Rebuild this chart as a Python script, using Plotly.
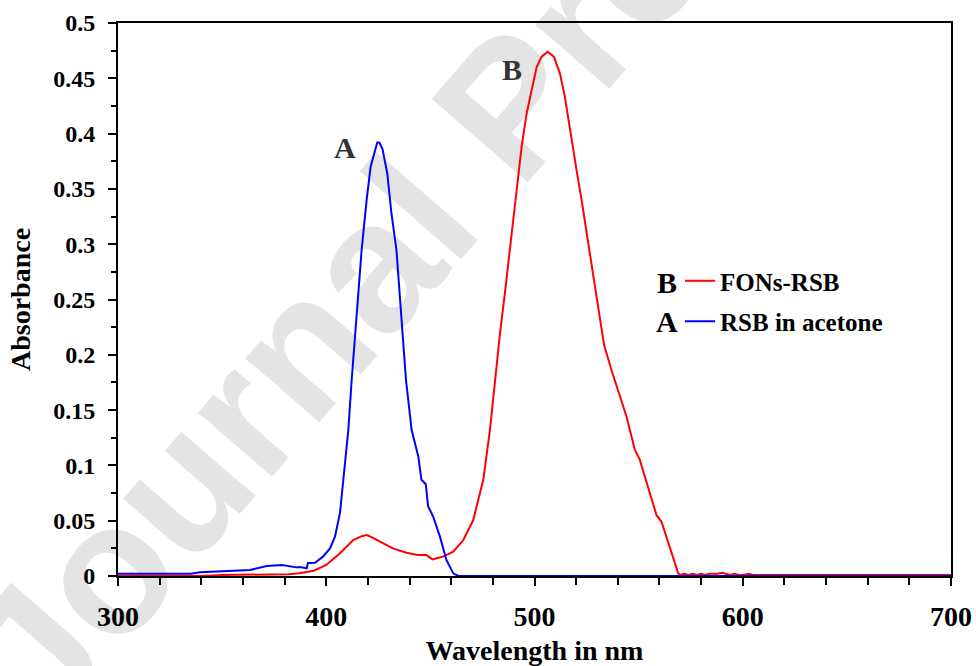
import plotly.graph_objects as go

# FONs-RSB (B, red)
red_wl = [300, 320, 340, 350, 370, 382, 387, 394, 400, 406.6, 413, 417, 419.4, 422, 425.8, 432,
          438.5, 444, 448, 451, 453, 456, 461, 465.8, 470.6, 475.4, 478.6, 481, 483.4, 485.8,
          488.2, 490.8, 493.8, 496.2, 498.6, 501, 503.4, 506.3, 509.3, 512.2, 514.6, 517, 520.2,
          522.6, 525, 528.2, 531.4, 533.4, 537, 541, 544.2, 548.2, 550.6, 553, 556.2, 558.6, 561,
          565, 567.4, 569, 570, 572, 574, 576, 578, 580, 582, 584, 586, 588, 590, 592, 594, 596,
          598, 600, 603, 605, 610, 700]
red_abs = [0.000, 0.000, 0.000, 0.001, 0.001, 0.0015, 0.0024, 0.0048, 0.010, 0.0205, 0.0325, 0.036,
           0.037, 0.035, 0.031, 0.025, 0.021, 0.019, 0.019, 0.015, 0.016, 0.0175, 0.022, 0.0325,
           0.0506, 0.087, 0.132, 0.177, 0.219, 0.256, 0.295, 0.335, 0.388, 0.418, 0.439, 0.460,
           0.4696, 0.474, 0.4696, 0.4545, 0.433, 0.403, 0.367, 0.340, 0.310, 0.2706, 0.2345, 0.209,
           0.186, 0.163, 0.144, 0.114, 0.105, 0.0898, 0.0687, 0.055, 0.049, 0.0265, 0.0115, 0.0024,
           0.001, 0.002, 0.001, 0.002, 0.001, 0.002, 0.001, 0.002, 0.002, 0.002, 0.003, 0.002,
           0.001, 0.002, 0.001, 0.001, 0.002, 0.001, 0.0008, 0.0008]

# RSB in acetone (A, blue)
blue_wl = [300, 320, 335, 339.4, 355, 363.4, 371.4, 378.6, 385.8, 388, 390.6, 391.2, 394.6, 398.4,
           401.8, 404.2, 406.6, 408.2, 410.6, 412.2, 414.5, 417, 419.4, 421.3, 422.6, 424.5, 425.5,
           427, 429.3, 431.3, 433.7, 436, 438.3, 441, 444.2, 445.7, 447.8, 448.9, 451.3, 454.6,
           457.7, 461, 463.4, 700]
blue_abs = [0.002, 0.002, 0.002, 0.0033, 0.0045, 0.0054, 0.009, 0.010, 0.0078, 0.0078, 0.007,
            0.0117, 0.012, 0.0175, 0.025, 0.0356, 0.057, 0.087, 0.132, 0.177, 0.235, 0.295, 0.34,
            0.370, 0.379, 0.392, 0.392, 0.386, 0.364, 0.328, 0.295, 0.235, 0.177, 0.132, 0.108,
            0.087, 0.083, 0.063, 0.054, 0.0356, 0.0145, 0.0024, 0.0, 0.0]

series_names = ["FONs-RSB", "RSB in acetone"]
series_letters = ["B", "A"]
x_ticks = [300, 400, 500, 600, 700]

SERIF = "Liberation Serif, Times New Roman, serif"

fig = go.Figure()
fig.add_trace(go.Scatter(x=red_wl, y=red_abs, mode="lines", name=series_names[0],
                         line=dict(color="#ff0000", width=2), legendgroup="b"))
fig.add_trace(go.Scatter(x=blue_wl, y=blue_abs, mode="lines", name=series_names[1],
                         line=dict(color="#0000ff", width=2), legendgroup="a"))

W, H = 976, 666
L, R, T, B = 118, 25, 23, 90

def px(xp):
    return (xp - L) / (W - L - R)

def py(yp):
    return (H - B - yp) / (H - T - B)

wm_cx, wm_cy = px(495), py(95)

fig.update_layout(
    width=W, height=H,
    margin=dict(l=L, r=R, t=T, b=B, pad=0, autoexpand=False),
    paper_bgcolor="white", plot_bgcolor="white",
    font=dict(family=SERIF, color="black"),
    showlegend=True,
    legend=dict(x=px(680), y=py(258), xanchor="left", yanchor="top",
                font=dict(size=25, family=SERIF, color="black", weight="bold"),
                bgcolor="rgba(0,0,0,0)", traceorder="grouped", tracegroupgap=5,
                itemwidth=30),
    shapes=[dict(type="rect", xref="paper", yref="paper",
                 x0=wm_cx - 0.05, x1=wm_cx + 0.05, y0=wm_cy - 0.05, y1=wm_cy + 0.05,
                 line=dict(width=0), fillcolor="rgba(0,0,0,0)", layer="below",
                 label=dict(text="Journal Pre-proof", textangle=-49, textposition="middle center",
                            font=dict(size=185, color="#e4e4e4", weight="bold",
                                      family="Liberation Sans, Arial, sans-serif")))],
)

fig.update_xaxes(
    range=[300, 700], tickvals=x_ticks, ticks="outside", ticklen=8, tickwidth=2,
    tickcolor="black", showline=True, linecolor="black", linewidth=2, mirror=True,
    showgrid=False, zeroline=False, automargin=False,
    tickfont=dict(size=28, family=SERIF, color="black", weight="bold"),
    ticklabelstandoff=6,
    minor=dict(dtick=20, ticks="outside", ticklen=7, tickwidth=2, tickcolor="black", showgrid=False),
    title=dict(text="Wavelength in nm", standoff=12,
               font=dict(size=28, family=SERIF, color="black", weight="bold")),
)
fig.update_yaxes(
    range=[0, 0.5], dtick=0.05, ticks="outside", ticklen=8, tickwidth=2,
    tickcolor="black", showline=True, linecolor="black", linewidth=2, mirror=True,
    showgrid=False, zeroline=False, automargin=False,
    tickfont=dict(size=24, family=SERIF, color="black", weight="bold"),
    ticklabelstandoff=8,
    minor=dict(dtick=0.025, ticks="outside", ticklen=5, tickwidth=2, tickcolor="black", showgrid=False),
    title=dict(text="Absorbance", standoff=14,
               font=dict(size=28, family=SERIF, color="black", weight="bold")),
)

# Peak letters
fig.add_annotation(x=424.5, y=0.392, text="A", showarrow=False, xanchor="center", yanchor="middle",
                   xref="x", yref="y", xshift=-32, yshift=-5,
                   font=dict(size=30, family=SERIF, color="#333333", weight="bold"))
fig.add_annotation(x=506.3, y=0.474, text="B", showarrow=False, xanchor="center", yanchor="middle",
                   xref="x", yref="y", xshift=-36, yshift=-18,
                   font=dict(size=30, family=SERIF, color="#333333", weight="bold"))

# Legend letters
fig.add_annotation(x=px(667), y=py(282), xref="paper", yref="paper", text=series_letters[0],
                   showarrow=False, font=dict(size=30, family=SERIF, color="black", weight="bold"))
fig.add_annotation(x=px(667), y=py(321), xref="paper", yref="paper", text=series_letters[1],
                   showarrow=False, font=dict(size=30, family=SERIF, color="black", weight="bold"))

fig.write_html("out.html")
